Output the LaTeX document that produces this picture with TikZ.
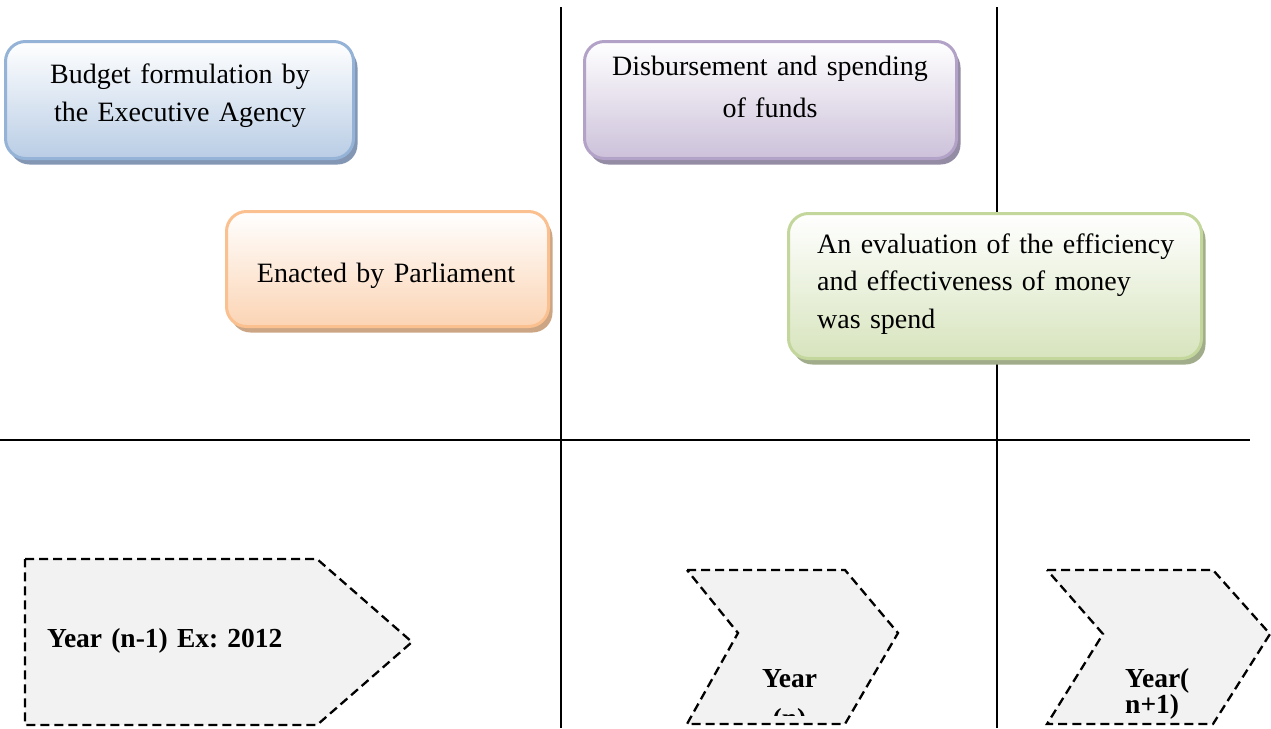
\documentclass[tikz,border=0pt]{standalone}
\usepackage{fontspec}
\setmainfont{Liberation Serif}
\usetikzlibrary{shadows}
\frenchspacing

\definecolor{blueEdge}{RGB}{149,179,215}
\definecolor{blueBase}{RGB}{185,205,229}
\definecolor{blueShade}{RGB}{131,151,181}
\definecolor{orangeEdge}{RGB}{250,192,144}
\definecolor{orangeBase}{RGB}{251,212,180}
\definecolor{orangeShade}{RGB}{204,166,132}
\definecolor{purpleEdge}{RGB}{179,162,199}
\definecolor{purpleBase}{RGB}{204,193,218}
\definecolor{purpleShade}{RGB}{148,139,164}
\definecolor{greenEdge}{RGB}{195,214,155}
\definecolor{greenBase}{RGB}{215,228,189}
\definecolor{greenShade}{RGB}{160,172,138}
\definecolor{yearFill}{RGB}{242,242,242}

\tikzset{
  divider/.style={line width=1.6pt, black},
  stagebox/.style={rectangle, rounded corners=20pt, line width=3pt, inner sep=0pt,
    general shadow={shadow xshift=4pt, shadow yshift=-6pt, fill=#1Shade},
    draw=#1Edge, top color=white, bottom color=#1Base},
  stagetext/.style={inner sep=0pt, text width=420pt, align=center, anchor=base,
    font=\fontsize{28}{#1}\selectfont},
  yearshape/.style={fill=yearFill, draw=black, line width=2.3pt, dash pattern=on 9pt off 5pt},
  yeartext/.style={inner sep=0pt, text width=300pt, font=\fontsize{27.5}{#1}\selectfont\bfseries},
}

\begin{document}
\begin{tikzpicture}[x=1pt, y=-1pt]
\useasboundingbox (0,0) rectangle (1271,728);

% timeline dividers
\coordinate (vaTop) at (561,7);
\coordinate (vaBot) at (561,728);
\coordinate (vbTop) at (997,7);
\coordinate (vbBot) at (997,728);
\coordinate (hLeft) at (0,440);
\coordinate (hRight) at (1250,440);
\draw[divider] (vaTop) -- (vaBot);
\draw[divider] (vbTop) -- (vbBot);
\draw[divider] (hLeft) -- (hRight);

% budget cycle stages
\node[stagebox=blue, minimum width=348pt, minimum height=117pt] (formulation) at (179.5,100) {};
\node[stagetext=38pt] (formulationText) at (180,83) {Budget formulation by\\the Executive Agency};

\node[stagebox=orange, minimum width=322pt, minimum height=115pt] (enactment) at (387.5,269) {};
\node[stagetext=38pt] (enactmentText) at (386,282) {Enacted by Parliament};

\node[stagebox=purple, minimum width=372pt, minimum height=117pt] (spending) at (770.5,100) {};
\node[stagetext=42pt] (spendingText) at (770,75) {Disbursement and spending\\of funds};

\node[stagebox=green, minimum width=413pt, minimum height=145pt] (evaluation) at (995,286) {};
\node[stagetext=37.5pt, align=left, anchor=base west] (evaluationText) at (817,253)
  {An evaluation of the efficiency\\and effectiveness of money\\was spend};

% year markers
\path[yearshape] (25,559) -- (317,559) -- (412,642) -- (317,725) -- (25,725) -- cycle;
\node[yeartext=30pt, anchor=base west] (yearPrev) at (47,647) {Year (n-1) Ex: 2012};

\path[yearshape] (687,570) -- (845,570) -- (898,633) -- (845,724) -- (687,724) -- (738,633) -- cycle;
\begin{scope}
  \clip (687,570) rectangle (898,715.5);
  \node[yeartext=40pt, text width=150pt, align=center, anchor=base] (yearCur) at (789.5,687) {Year\\(n)};
\end{scope}

\path[yearshape] (1047,570) -- (1213,570) -- (1270,634) -- (1213,724) -- (1047,724) -- (1103,634) -- cycle;
\node[yeartext=26pt, text width=150pt, align=left, anchor=base west] (yearNext) at (1125,687) {Year(\\n+1)};
\end{tikzpicture}
\end{document}
